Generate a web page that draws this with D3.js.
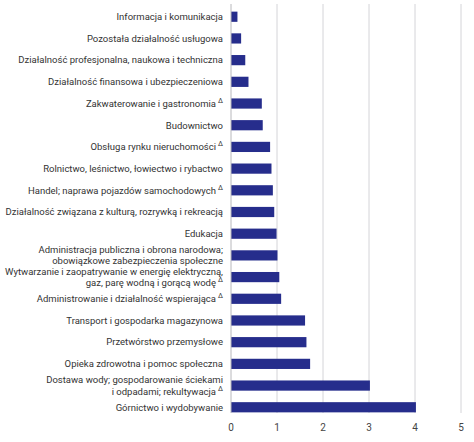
<!DOCTYPE html>
<html>
<head>
<meta charset="utf-8">
<script src="https://cdn.jsdelivr.net/npm/d3@7"></script>
<style>
body { margin: 0; background: #fff; }
text { font-family: Roboto, "Noto Sans", sans-serif; }
</style>
</head>
<body>
<div id="chart"></div>
<script>
// labels: each entry is a list of lines; a trailing "^" on a line marks the Δ superscript
const labels = [
	["Informacja i komunikacja"],
	["Pozostała działalność usługowa"],
	["Działalność profesjonalna, naukowa i techniczna"],
	["Działalność finansowa i ubezpieczeniowa"],
	["Zakwaterowanie i gastronomia^"],
	["Budownictwo"],
	["Obsługa rynku nieruchomości^"],
	["Rolnictwo, leśnictwo, łowiectwo i rybactwo"],
	["Handel; naprawa pojazdów samochodowych^"],
	["Działalność związana z kulturą, rozrywką i rekreacją"],
	["Edukacja"],
	["Administracja publiczna i obrona narodowa;", "obowiązkowe zabezpieczenia społeczne"],
	["Wytwarzanie i zaopatrywanie w energię elektryczną,", "gaz, parę wodną i gorącą wodę^"],
	["Administrowanie i działalność wspierająca^"],
	["Transport i gospodarka magazynowa"],
	["Przetwórstwo przemysłowe"],
	["Opieka zdrowotna i pomoc społeczna"],
	["Dostawa wody; gospodarowanie ściekami", "i odpadami; rekultywacja^"],
	["Górnictwo i wydobywanie"]
];
const values = [0.14, 0.22, 0.31, 0.38, 0.67, 0.69, 0.85, 0.88, 0.91, 0.94, 0.99, 1.01, 1.05, 1.09, 1.61, 1.64, 1.72, 3.02, 4.02];
const xTicks = [0, 1, 2, 3, 4, 5];

const width = 474;
const height = 442;
const margin = {left: 231, right: 13, top: 6, bottom: 24};

const svg = d3.select("#chart")
	.append("svg")
	.attr("width", width)
	.attr("height", height);

const x = d3.scaleLinear()
	.domain([0, 5])
	.range([margin.left, width - margin.right]);

const y = d3.scaleBand()
	.domain(d3.range(labels.length))
	.range([margin.top, height - margin.bottom])
	.paddingInner(0.53)
	.paddingOuter(0.26);

// gridlines
svg.append("g").selectAll("line").data(xTicks.slice(1)).enter()
	.append("line")
	.attr("x1", d => x(d)).attr("x2", d => x(d))
	.attr("y1", 4).attr("y2", height - margin.bottom - 5)
	.attr("stroke", "#d4d4d8")
	.attr("stroke-width", 1);

// bars
svg.append("g").selectAll("rect").data(values).enter()
	.append("rect")
	.attr("x", x(0))
	.attr("y", (d, i) => y(i))
	.attr("width", d => x(d) - x(0))
	.attr("height", y.bandwidth())
	.attr("fill", "#262d8c");

// y axis line
svg.append("line")
	.attr("x1", x(0)).attr("x2", x(0))
	.attr("y1", 4).attr("y2", height - margin.bottom - 5)
	.attr("stroke", "#b8b8bc")
	.attr("stroke-width", 1);

// category labels, one text per line, Δ drawn as its own small text
const labG = svg.append("g");
const right = x(0) - 8;

labels.forEach(function(lines, i) {
	const cy = y(i) + y.bandwidth() / 2;
	lines.forEach(function(line, j) {
		const yy = cy + (j - (lines.length - 1) / 2) * 11.5 + 3.3;
		const tri = line.endsWith("^");
		labG.append("text")
			.attr("x", tri ? right - 7 : right)
			.attr("y", yy)
			.attr("text-anchor", "end")
			.attr("font-size", 9.5)
			.attr("fill", "#333")
			.text(tri ? line.slice(0, -1) : line);
		if (tri) {
			labG.append("text")
				.attr("x", right)
				.attr("y", yy - 4)
				.attr("text-anchor", "end")
				.attr("font-size", 7)
				.attr("fill", "#333")
				.text("Δ");
		}
	});
});

// x axis tick labels
svg.append("g").selectAll("text").data(xTicks).enter()
	.append("text")
	.attr("x", d => x(d))
	.attr("y", height - 11)
	.attr("text-anchor", "middle")
	.attr("font-size", 10)
	.attr("fill", "#444")
	.text(d => d);
</script>
</body>
</html>
